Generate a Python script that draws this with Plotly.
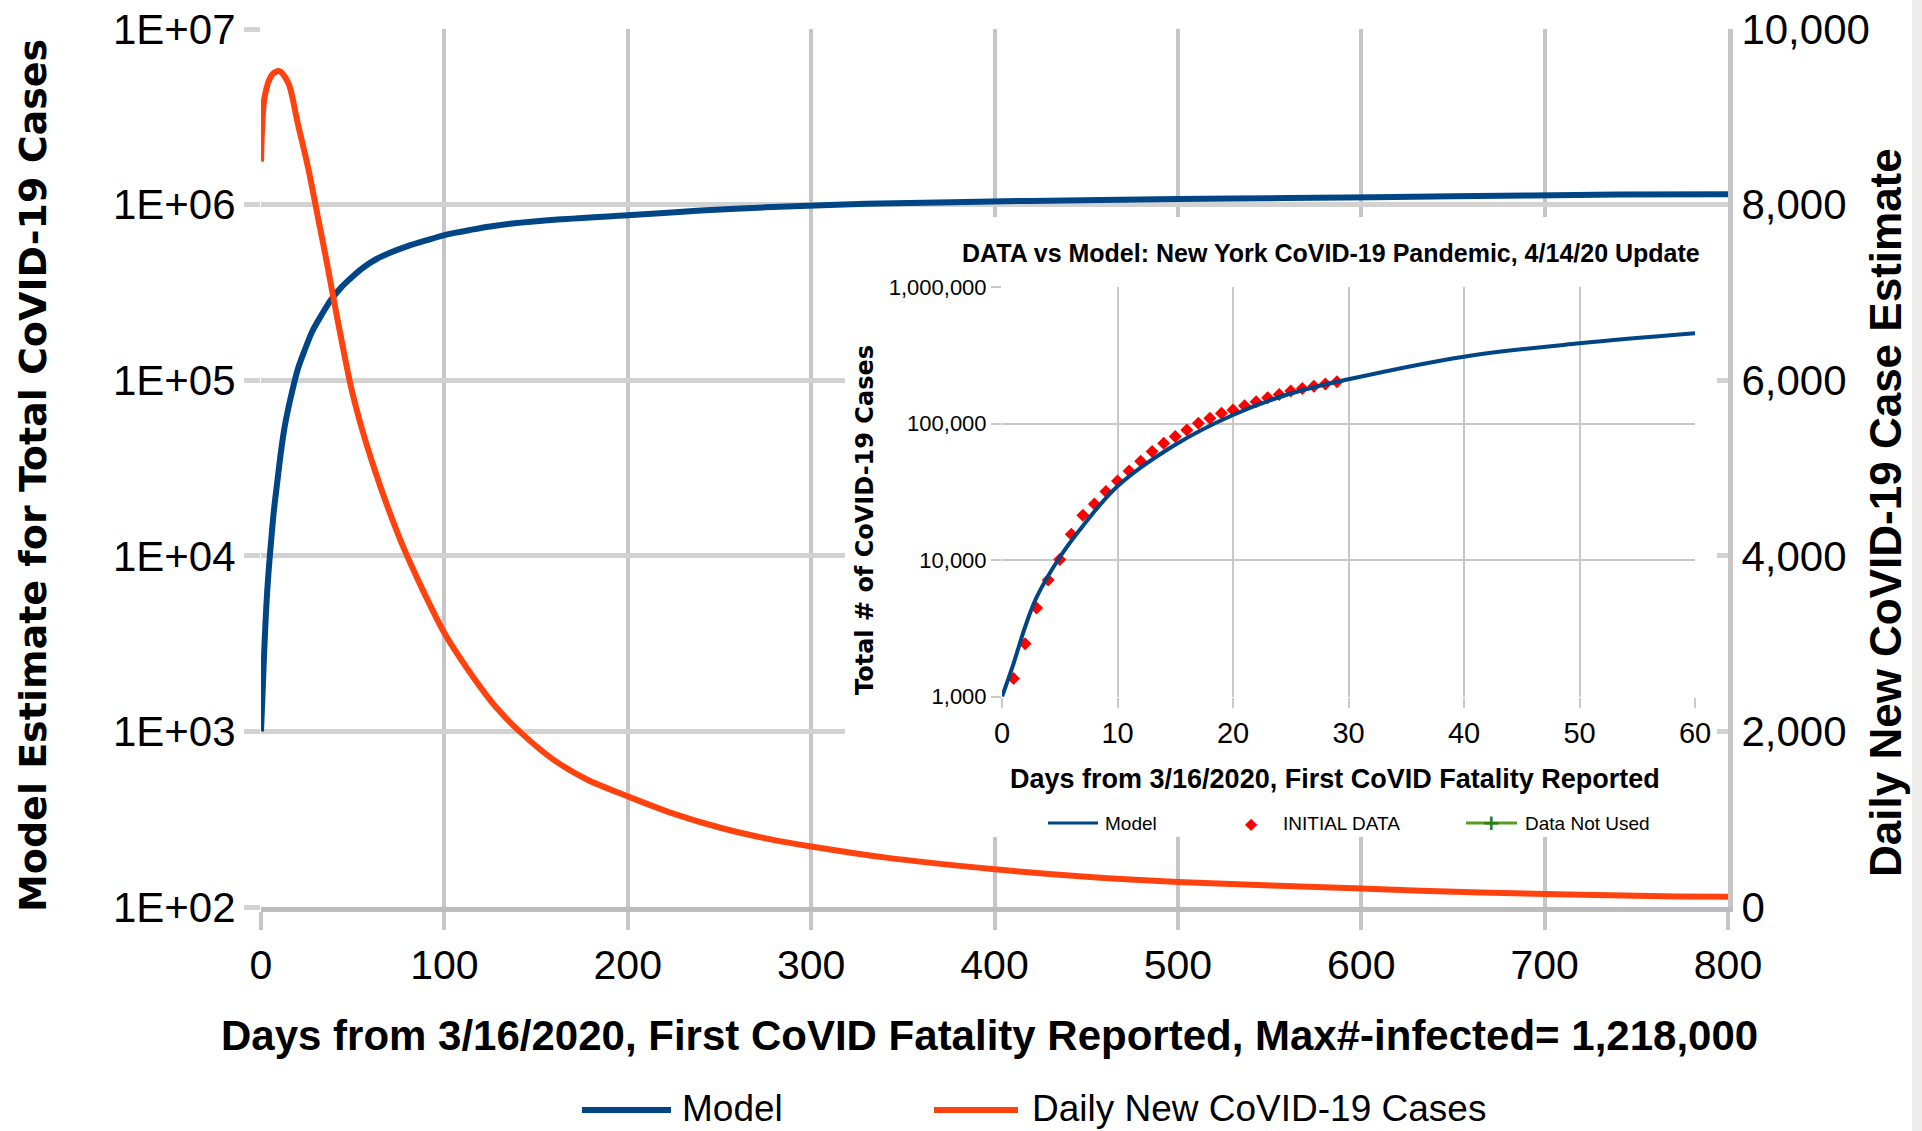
import plotly.graph_objects as go

# main chart: model estimate of total cases (left, log) and daily new cases (right)
model_days = [0, 1, 2, 3, 4, 5, 7, 9, 11, 13, 16, 20, 24, 28, 33, 38, 44, 50, 56, 63, 70, 80,
              90, 101, 115, 125, 137, 160, 200, 240, 275, 330, 420, 500, 560, 650, 740, 800]
model_cases = [1000, 1800, 3300, 5400, 7800, 10500, 18000, 27000, 40000, 55000, 78000, 115000,
               150000, 190000, 235000, 285000, 340000, 390000, 440000, 490000, 530000, 580000,
               625000, 675000, 720000, 750000, 780000, 820000, 870000, 925000, 965000, 1010000,
               1050000, 1075000, 1090000, 1115000, 1140000, 1145000]

daily_days = [0, 2, 6, 10, 15, 20, 26, 31, 36, 40, 45, 49, 55, 62, 69, 77, 88, 100, 113, 128,
              142, 160, 178, 200, 224, 251, 278, 300, 340, 400, 450, 500, 600, 665, 765, 800]
daily_new = [8490, 9230, 9480, 9520, 9380, 8930, 8390, 7860, 7330, 6880, 6340, 5930, 5450, 4980,
             4560, 4130, 3620, 3120, 2700, 2280, 1980, 1670, 1450, 1260, 1070, 900, 770, 690, 565,
             430, 345, 285, 210, 165, 122, 118]

# inset: New York data vs model, first 60 days
inset_model_days = [0, 1, 2, 3, 5, 7, 10, 15, 20, 25, 30, 40, 50, 60]
inset_model_cases = [1000, 1750, 3240, 5350, 10500, 17800, 34800, 70000, 115600, 166000,
                     211000, 309000, 387000, 458000]

data_days = [1, 2, 3, 4, 5, 6, 7, 8, 9, 10, 11, 12, 13, 14, 15, 16, 17, 18, 19, 20,
             21, 22, 23, 24, 25, 26, 27, 28, 29]
data_cases = [1360, 2440, 4470, 7140, 10100, 15500, 21300, 25800, 31800, 38000, 45000, 52900,
              62500, 71900, 80400, 89900, 100500, 109300, 118900, 125900, 135300, 144600,
              154600, 163500, 173000, 180900, 188000, 195000, 202000]

left_tickvals = [1e2, 1e3, 1e4, 1e5, 1e6, 1e7]
left_ticktext = ["1E+02", "1E+03", "1E+04", "1E+05", "1E+06", "1E+07"]
right_tickvals = [0, 2000, 4000, 6000, 8000, 10000]
right_ticktext = ["0", "2,000", "4,000", "6,000", "8,000", "10,000"]
inset_tickvals = [1e3, 1e4, 1e5, 1e6]
inset_ticktext = ["1,000", "10,000", "100,000", "1,000,000"]

BLUE = "#004586"
ORANGE = "#ff420e"
GREEN = "#579d1c"
NARROW = "Liberation Sans Narrow, Arial Narrow, Liberation Sans, sans-serif"
SANS = "Liberation Sans, Arial, sans-serif"
WIDE = "DejaVu Sans, Verdana, sans-serif"

W, H = 1922, 1131
L, R, T, B = 261, 1728, 29, 907  # main plot box in pixels


def px(x):
    return (x - L) / (R - L)


def py(y):
    return (B - y) / (B - T)


fig = go.Figure()
fig.add_trace(go.Scatter(x=model_days, y=model_cases, mode="lines", name="Model",
                         line=dict(color=BLUE, width=6, shape="spline", smoothing=0.8),
                         showlegend=False))
fig.add_trace(go.Scatter(x=daily_days, y=daily_new, mode="lines", name="Daily New CoVID-19 Cases",
                         yaxis="y2", line=dict(color=ORANGE, width=6, shape="spline", smoothing=0.8),
                         showlegend=False))
# empty subplot whose white background hides the main grid behind the inset
fig.add_trace(go.Scatter(x=[], y=[], xaxis="x2", yaxis="y3", showlegend=False, hoverinfo="skip"))
fig.add_trace(go.Scatter(x=data_days, y=data_cases, mode="markers", name="INITIAL DATA",
                         xaxis="x3", yaxis="y4", showlegend=False,
                         marker=dict(symbol="diamond", color="#ff0000", size=10)))
fig.add_trace(go.Scatter(x=inset_model_days, y=inset_model_cases, mode="lines", name="Model",
                         xaxis="x3", yaxis="y4", showlegend=False,
                         line=dict(color=BLUE, width=4, shape="spline")))

grid_v = "#c6c6c6"
grid_h = "#d2d2d2"
fig.update_layout(
    width=W, height=H,
    margin=dict(l=L, r=W - R, t=T, b=H - B, autoexpand=False),
    paper_bgcolor="white", plot_bgcolor="white",
    showlegend=False,
    xaxis=dict(domain=[0, 1], range=[0, 800], tick0=0, dtick=100, anchor="y",
               showgrid=True, gridcolor=grid_v, gridwidth=4, zeroline=False,
               ticks="outside", ticklen=18, tickwidth=4, tickcolor=grid_v,
               showline=True, linecolor="#bcbcbc", linewidth=5,
               tickfont=dict(family=NARROW, size=41, color="black")),
    yaxis=dict(type="log", range=[2, 7], tickvals=left_tickvals, ticktext=left_ticktext,
               showgrid=True, gridcolor=grid_h, gridwidth=5, zeroline=False,
               ticks="outside", ticklen=16, tickwidth=5, tickcolor=grid_h,
               tickfont=dict(family=NARROW, size=42, color="black")),
    yaxis2=dict(overlaying="y", side="right", range=[0, 10000], tickvals=right_tickvals,
                ticktext=right_ticktext, showgrid=False, zeroline=False,
                showline=True, linecolor=grid_v, linewidth=5, ticks="",
                tickfont=dict(family=NARROW, size=42, color="black")),
    xaxis2=dict(domain=[px(845), px(1717)], anchor="y3", range=[0, 1], visible=False),
    yaxis3=dict(domain=[py(837), py(217)], anchor="x2", range=[0, 1], visible=False),
    xaxis3=dict(domain=[px(1002), px(1695)], anchor="y4", range=[0, 60], tick0=0, dtick=10,
                showgrid=True, gridcolor="#c8c8c8", gridwidth=1.5, zeroline=False,
                ticks="outside", ticklen=10, tickwidth=1.5, tickcolor="#c8c8c8",
                tickfont=dict(family=NARROW, size=29, color="black")),
    yaxis4=dict(type="log", domain=[py(696.7), py(287)], anchor="x3", range=[3, 6],
                tickvals=inset_tickvals, ticktext=inset_ticktext,
                showgrid=True, gridcolor="#c8c8c8", gridwidth=1.5, zeroline=False,
                ticks="outside", ticklen=10, tickwidth=1.5, tickcolor="#c8c8c8",
                tickfont=dict(family=NARROW, size=22, color="black")),
)


def label(text, x, y, size, family, bold=False, angle=0, color="black", xanchor="center"):
    fig.add_annotation(text=text, x=px(x), y=py(y), xref="paper", yref="paper",
                       showarrow=False, textangle=angle, xanchor=xanchor, yanchor="middle",
                       font=dict(family=family, size=size, color=color,
                                 weight="bold" if bold else "normal"))


# axis titles
label("Model Estimate for Total CoVID-19 Cases", 33, 476, 38, WIDE, bold=True, angle=-90)
label("Daily New CoVID-19 Case Estimate", 1885, 513, 44, SANS, bold=True, angle=-90)
label("Days from 3/16/2020, First CoVID Fatality Reported, Max#-infected= 1,218,000",
      989, 1035, 42, NARROW, bold=True)

# main legend
fig.add_shape(type="line", xref="paper", yref="paper", x0=px(582), x1=px(671),
              y0=py(1110), y1=py(1110), line=dict(color=BLUE, width=6))
fig.add_shape(type="line", xref="paper", yref="paper", x0=px(934), x1=px(1018),
              y0=py(1110), y1=py(1110), line=dict(color=ORANGE, width=6))
label("Model", 680, 1108, 37, NARROW, xanchor="left")
label("Daily New CoVID-19 Cases", 1030, 1108, 37, NARROW, xanchor="left")

# inset texts
label("DATA vs Model: New York CoVID-19 Pandemic, 4/14/20 Update", 1331, 253, 25, NARROW, bold=True)
label("Total # of CoVID-19 Cases", 865, 520, 24, WIDE, bold=True, angle=-90)
label("Days from 3/16/2020, First CoVID Fatality Reported", 1335, 779, 27, NARROW, bold=True)

# inset legend
fig.add_shape(type="line", xref="paper", yref="paper", x0=px(1048), x1=px(1098),
              y0=py(823), y1=py(823), line=dict(color=BLUE, width=3))
fig.add_shape(type="line", xref="paper", yref="paper", x0=px(1466), x1=px(1517),
              y0=py(823), y1=py(823), line=dict(color=GREEN, width=3))
label("Model", 1103, 823, 19, NARROW, xanchor="left")
label("\u25c6", 1251, 823, 16, WIDE, color="#ff0000")
label("INITIAL DATA", 1281, 823, 19, NARROW, xanchor="left")
label("+", 1491, 822, 22, WIDE, bold=True, color="#2e7d12")
label("Data Not Used", 1523, 823, 19, NARROW, xanchor="left")

# grey strip at the right edge of the screenshot
fig.add_shape(type="rect", xref="paper", yref="paper", x0=px(1912), x1=px(1935),
              y0=py(1140), y1=py(-10), fillcolor="#eeece8", line=dict(width=0), layer="above")

fig.write_html("out.html", config={"displayModeBar": False},
               post_script="document.body.style.margin='0';")
